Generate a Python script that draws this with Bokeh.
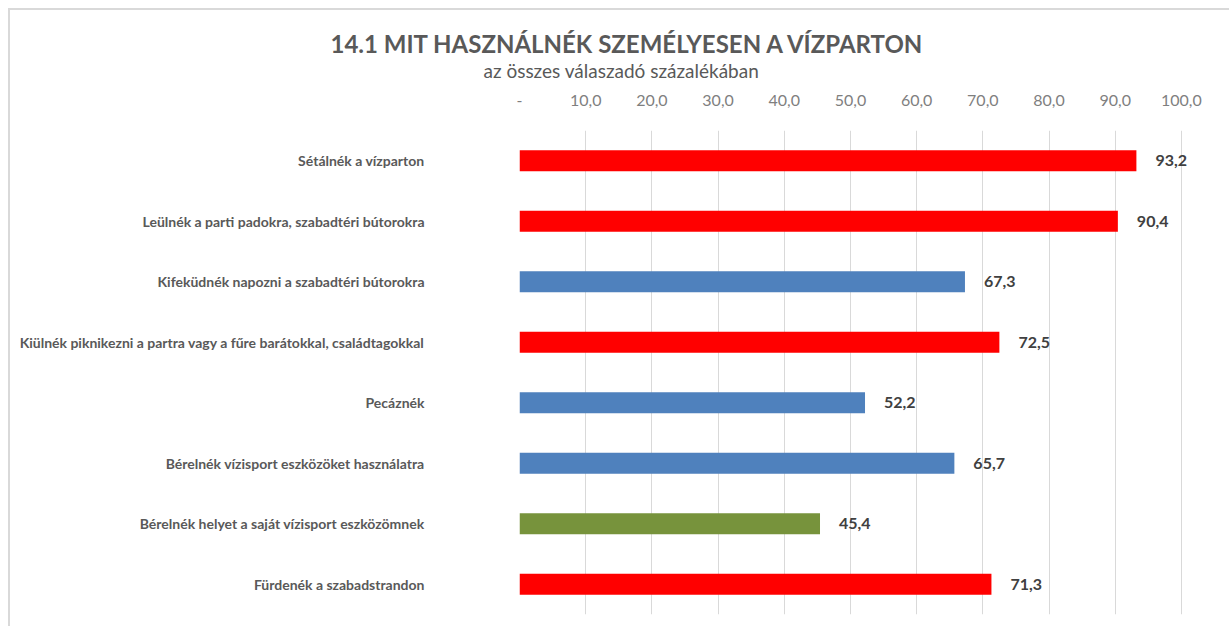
from bokeh.plotting import figure
from bokeh.models import FactorRange, Range1d, FixedTicker, Title, ColumnDataSource
from bokeh.embed import file_html
from bokeh.resources import INLINE
from bokeh.core.properties import value

title_text = "14.1 MIT HASZNÁLNÉK SZEMÉLYESEN A VÍZPARTON"
subtitle_text = "az összes válaszadó százalékában"

categories = [
    "Sétálnék a vízparton",
    "Leülnék a parti padokra, szabadtéri bútorokra",
    "Kifeküdnék napozni a szabadtéri bútorokra",
    "Kiülnék piknikezni a partra vagy a fűre barátokkal, családtagokkal",
    "Pecáznék",
    "Bérelnék vízisport eszközöket használatra",
    "Bérelnék helyet a saját vízisport eszközömnek",
    "Fürdenék a szabadstrandon",
]
values = [93.2, 90.4, 67.3, 72.5, 52.2, 65.7, 45.4, 71.3]
colors = ["#FF0000", "#FF0000", "#4F81BD", "#FF0000", "#4F81BD", "#4F81BD", "#77933C", "#FF0000"]
tick_values = [0, 10, 20, 30, 40, 50, 60, 70, 80, 90, 100]
tick_labels = ["-", "10,0", "20,0", "30,0", "40,0", "50,0", "60,0", "70,0", "80,0", "90,0", "100,0"]

value_labels = [f"{v:.1f}".replace(".", ",") for v in values]

src = ColumnDataSource(dict(cat=categories, val=values, color=colors, lab=value_labels))

W, H = 1221, 618
p = figure(
    width=W, height=H,
    y_range=FactorRange(*reversed(categories), range_padding=0),
    x_range=Range1d(0, 105),
    x_axis_location="above",
    output_backend="svg", toolbar_location=None,
    min_border_left=509, min_border_right=17, min_border_top=120, min_border_bottom=14,
    title=None,
)
p.outline_line_color = None
p.background_fill_color = "white"
p.border_fill_color = "white"

p.hbar(y="cat", right="val", left=0, height=0.35, fill_color="color", line_color=None, source=src)
p.text(x="val", y="cat", text="lab", x_offset=19, text_align="left", text_baseline="middle",
       text_font=value("Lato"), text_font_style="bold", text_font_size="16px",
       text_color="#404040", source=src)

xa = p.xaxis[0]
xa.ticker = FixedTicker(ticks=tick_values)
xa.major_label_overrides = {t: l for t, l in zip(tick_values, tick_labels)}
xa.axis_line_color = None
xa.major_tick_line_color = None
xa.minor_tick_line_color = None
xa.major_label_standoff = 19
xa.major_label_text_font = "Lato"
xa.major_label_text_font_size = "16px"
xa.major_label_text_color = "#7F7F7F"

ya = p.yaxis[0]
ya.axis_line_color = None
ya.major_tick_line_color = None
ya.major_tick_out = 0
ya.minor_tick_line_color = None
ya.major_label_standoff = 95
ya.major_label_text_font = "Lato"
ya.major_label_text_font_style = "bold"
ya.major_label_text_font_size = "14px"
ya.major_label_text_color = "#595959"

p.ygrid.grid_line_color = None
p.xgrid.ticker = FixedTicker(ticks=tick_values)
p.xgrid.grid_line_color = "#D9D9D9"

p.add_layout(Title(text=subtitle_text, align="left", offset=-36, standoff=20,
                   text_font="Lato", text_font_style="normal", text_font_size="19px",
                   text_color="#595959"), "above")
p.add_layout(Title(text=title_text, align="left", offset=-189, standoff=-22,
                   text_font="Lato", text_font_style="bold", text_font_size="24px",
                   text_color="#595959"), "above")

p.styles = {"margin-left": "8px", "margin-top": "8px",
            "border-left": "2px solid #D9D9D9", "border-top": "2px solid #D9D9D9"}

open("out.html", "w").write(file_html(p, INLINE))
